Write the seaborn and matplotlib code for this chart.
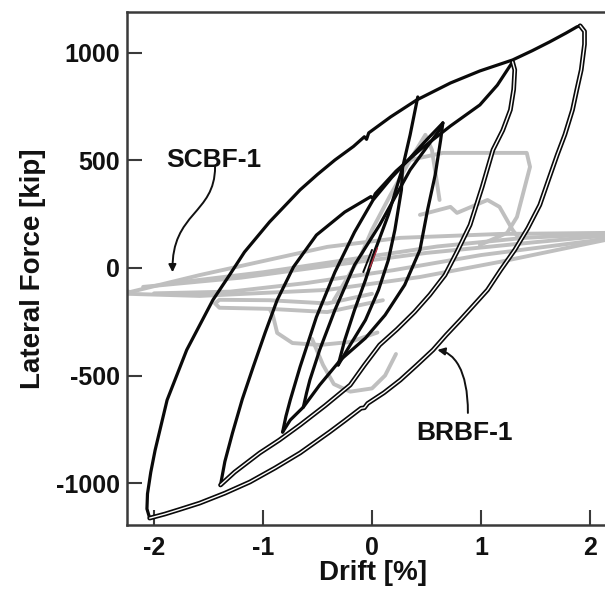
import matplotlib
matplotlib.use("Agg")
import matplotlib.pyplot as plt
from matplotlib.path import Path
from matplotlib.patches import FancyArrowPatch
import pandas as pd
import seaborn as sns

# ---- BRBF-1 hysteresis (drift [%], lateral force [kip]) ----
brbf_a_load_x = [-2.04, -2.065, -2.06, -2.03, -1.99, -1.88, -1.70, -1.46, -1.31, -1.17, -0.94, -0.66, -0.50, -0.34, -0.17,
                 -0.07, -0.05, -0.03, 0.17, 0.41, 0.72, 0.99, 1.29, 1.47, 1.63, 1.78, 1.88, 1.91]
brbf_a_load_y = [-1163, -1120, -1050, -950, -847, -614, -381, -149, -35, 74, 214, 363, 435, 502, 565,
                 610, 598, 628, 702, 781, 860, 916, 967, 1010, 1051, 1092, 1121, 1126]
brbf_a_unload_x = [1.91, 1.95, 1.95, 1.92, 1.88, 1.84, 1.77, 1.70, 1.62, 1.54, 1.43, 1.31, 1.18, 1.06, 0.93, 0.81, 0.68,
                   0.56, 0.41, 0.26, 0.11, -0.04, -0.07, -0.10, -0.25, -0.39, -0.66, -0.89, -1.12, -1.35, -1.58, -1.76,
                   -1.90, -2.04]
brbf_a_unload_y = [1126, 1100, 1040, 921, 830, 735, 620, 526, 410, 293, 185, 84, -10, -102, -175, -242, -312,
                   -381, -452, -521, -580, -630, -650, -652, -710, -763, -860, -930, -995, -1047, -1093, -1122,
                   -1144, -1163]

brbf_b_load_x = [-1.39, -1.35, -1.28, -1.19, -1.09, -0.98, -0.87, -0.72, -0.51, -0.25, -0.01, 0.01, 0.03, 0.22, 0.44,
                 0.72, 0.99, 1.15, 1.29]
brbf_b_load_y = [-1009, -900, -767, -610, -460, -300, -149, 5, 153, 260, 332, 322, 345, 450, 549,
                 660, 758, 850, 958]
brbf_b_unload_x = [1.29, 1.31, 1.30, 1.27, 1.20, 1.11, 1.01, 0.90, 0.78, 0.67, 0.53, 0.39, 0.23, 0.07, -0.07, -0.20,
                   -0.43, -0.66, -0.85, -1.03, -1.26, -1.39]
brbf_b_unload_y = [958, 921, 830, 735, 640, 549, 375, 200, 75, -33, -125, -205, -285, -358, -452, -544,
                   -640, -730, -800, -860, -949, -1009]

brbf_c_load1_x = [-0.63, -0.60, -0.57, -0.48, -0.34, -0.16, 0.07, 0.35, 0.50, 0.62, 0.65]
brbf_c_load1_y = [-647, -580, -521, -381, -195, 14, 200, 456, 560, 642, 674]
brbf_c_load2_x = [-0.82, -0.79, -0.75, -0.66, -0.51, -0.34, -0.16, 0.01, 0.18, 0.35, 0.50, 0.65]
brbf_c_load2_y = [-763, -690, -614, -460, -228, -19, 167, 316, 420, 512, 595, 674]
brbf_c_unload_x = [0.65, 0.63, 0.58, 0.51, 0.44, 0.30, 0.12, -0.06, -0.29, -0.48, -0.63, -0.75, -0.82]
brbf_c_unload_y = [674, 595, 433, 270, 84, -79, -219, -326, -428, -544, -647, -707, -763]

brbf_d_load_x = [-0.31, -0.25, -0.16, -0.06, 0.03, 0.15, 0.28, 0.35, 0.42]
brbf_d_load_y = [-451, -335, -195, -56, 84, 247, 465, 619, 795]
brbf_d_unload_x = [0.28, 0.27, 0.21, 0.15, 0.06, -0.06, -0.20, -0.31]
brbf_d_unload_y = [465, 363, 177, 37, -102, -242, -358, -451]

brbf_e_x = [-0.08, 0.00]
brbf_e_y = [-19, 84]
brbf_e2_x = [-0.02, 0.05]
brbf_e2_y = [0, 93]

# ---- SCBF-1 hysteresis ----
scbf_flat_top_x = [-2.25, -2.22, -1.58, -0.66, -0.41, 0.26, 1.17, 2.14]
scbf_flat_top_y = [-108, -112, -33, 70, 98, 140, 158, 163]
scbf_flat_bot_x = [-2.25, -1.58, -0.41, 0.44, 1.17, 2.14]
scbf_flat_bot_y = [-120, -130, -102, -42, 28, 130]
scbf_flat_mid1_x = [-2.10, -1.20, -0.40, 0.50, 1.50, 2.14]
scbf_flat_mid1_y = [-88, -45, 10, 70, 120, 150]
scbf_flat_mid2_x = [-2.00, -1.30, -0.60, 0.20, 1.00, 2.00, 2.14]
scbf_flat_mid2_y = [-118, -110, -70, -10, 60, 125, 138]
scbf_flat_mid3_x = [-1.90, -1.00, -0.20, 0.60, 1.40, 2.14]
scbf_flat_mid3_y = [-75, -20, 40, 100, 140, 158]
scbf_plateau_x = [0.10, -0.41, -0.94, -1.40, -1.44, -1.40, -0.94, -0.41, 0.00]
scbf_plateau_y = [-150, -205, -190, -185, -165, -148, -150, -165, -120]
scbf_lower_x = [-0.94, -0.91, -0.87, -0.73, -0.48, -0.20, 0.05]
scbf_lower_y = [-190, -219, -302, -349, -358, -344, -300]
scbf_bottom_x = [-0.55, -0.45, -0.35, -0.20, 0.00, 0.12, 0.22]
scbf_bottom_y = [-330, -450, -540, -575, -560, -500, -400]
scbf_rise_x = [-0.35, -0.10, 0.00, 0.17, 0.35, 0.49, 0.55, 0.62]
scbf_rise_y = [-150, 60, 177, 340, 502, 619, 549, 316]
scbf_box_x = [0.35, 0.65, 1.42, 1.45, 1.33, 1.24, 0.99]
scbf_box_y = [502, 535, 535, 470, 237, 163, 107]
scbf_mid_x = [0.44, 0.51, 0.72, 0.78, 1.06, 1.17, 1.29, 1.36]
scbf_mid_y = [247, 256, 284, 256, 316, 284, 177, 130]

x_ticks = [-2, -1, 0, 1, 2]
y_ticks = [-1000, -500, 0, 500, 1000]


def frame(paths):
    rows = []
    for name, (xs, ys) in paths.items():
        for i, (x, y) in enumerate(zip(xs, ys)):
            rows.append((name, i, x, y))
    return pd.DataFrame(rows, columns=["path", "order", "drift", "force"])


gray_df = frame({
    "flat_top": (scbf_flat_top_x, scbf_flat_top_y),
    "flat_bot": (scbf_flat_bot_x, scbf_flat_bot_y),
    "flat_mid1": (scbf_flat_mid1_x, scbf_flat_mid1_y),
    "flat_mid2": (scbf_flat_mid2_x, scbf_flat_mid2_y),
    "flat_mid3": (scbf_flat_mid3_x, scbf_flat_mid3_y),
    "plateau": (scbf_plateau_x, scbf_plateau_y),
    "lower": (scbf_lower_x, scbf_lower_y),
    "bottom": (scbf_bottom_x, scbf_bottom_y),
    "rise": (scbf_rise_x, scbf_rise_y),
    "box": (scbf_box_x, scbf_box_y),
    "mid": (scbf_mid_x, scbf_mid_y),
})

single_df = frame({
    "a_load": (brbf_a_load_x, brbf_a_load_y),
    "b_load": (brbf_b_load_x, brbf_b_load_y),
    "c_load1": (brbf_c_load1_x, brbf_c_load1_y),
    "c_load2": (brbf_c_load2_x, brbf_c_load2_y),
    "c_unload": (brbf_c_unload_x, brbf_c_unload_y),
    "d_load": (brbf_d_load_x, brbf_d_load_y),
    "d_unload": (brbf_d_unload_x, brbf_d_unload_y),
})

double_df = frame({
    "a_unload": (brbf_a_unload_x, brbf_a_unload_y),
    "b_unload": (brbf_b_unload_x, brbf_b_unload_y),
})

small_df = frame({"e": (brbf_e_x, brbf_e_y)})
red_df = frame({"e2": (brbf_e2_x, brbf_e2_y)})

sns.set_theme(style="white")
plt.rcParams["font.family"] = ["Liberation Sans", "DejaVu Sans"]
plt.rcParams["font.weight"] = "bold"
plt.rcParams["axes.unicode_minus"] = False

fig = plt.figure(figsize=(6.05, 5.93), dpi=100)
ax = fig.add_axes([127 / 605, 1 - 525 / 593, 478 / 605, 513 / 593])

common = dict(x="drift", y="force", units="path", estimator=None, sort=False,
              legend=False, ax=ax, solid_joinstyle="round", solid_capstyle="round")

sns.lineplot(data=gray_df, color="#bfbfbf", lw=2.8, **common)
sns.lineplot(data=single_df, color="#0a0a0a", lw=2.3, **common)
sns.lineplot(data=double_df, color="#0a0a0a", lw=3.4, **common)
sns.lineplot(data=double_df, color="white", lw=1.0, **common)
sns.lineplot(data=small_df, color="#0a0a0a", lw=1.4, **common)
sns.lineplot(data=red_df, color="#b03040", lw=1.0, **common)

ax.set_xlim(-2.248, 2.138)
ax.set_ylim(-1195, 1190)
ax.set_xticks(x_ticks)
ax.set_yticks(y_ticks)
ax.set_xticklabels([str(t) for t in x_ticks])
ax.set_yticklabels([str(t) for t in y_ticks])

for side in ["left", "top", "bottom"]:
    ax.spines[side].set_visible(True)
    ax.spines[side].set_color("#3a3a3a")
    ax.spines[side].set_linewidth(1.8)
ax.spines["right"].set_visible(False)

ax.tick_params(axis="both", which="major", direction="in", length=11, width=1.5,
               color="#3a3a3a", labelsize=18, labelcolor="#111111",
               left=True, bottom=True, top=False, right=False)
ax.tick_params(axis="y", pad=5)
ax.tick_params(axis="x", pad=8)
for lab in ax.get_xticklabels() + ax.get_yticklabels():
    lab.set_fontweight("bold")

ax.set_xlabel("Drift [%]", fontsize=20, fontweight="bold", color="#111111")
ax.set_ylabel("Lateral Force [kip]", fontsize=20, fontweight="bold", color="#111111")
ax.xaxis.set_label_coords(0.515, -0.068)
ax.yaxis.set_label_coords(-0.17, 0.5)

ax.text(-1.45, 502, "SCBF-1", fontsize=19, fontweight="bold", ha="center", va="center", color="#111111")
ax.text(0.853, -767, "BRBF-1", fontsize=19, fontweight="bold", ha="center", va="center", color="#111111")

scbf_arrow = Path([(-1.44, 470), (-1.44, 250), (-1.84, 260), (-1.83, -20)],
                  [Path.MOVETO, Path.CURVE4, Path.CURVE4, Path.CURVE4])
ax.add_patch(FancyArrowPatch(path=scbf_arrow, arrowstyle="-|>", mutation_scale=11,
                             color="#111111", lw=1.4))
brbf_arrow = Path([(0.88, -674), (0.88, -470), (0.75, -395), (0.60, -381)],
                  [Path.MOVETO, Path.CURVE4, Path.CURVE4, Path.CURVE4])
ax.add_patch(FancyArrowPatch(path=brbf_arrow, arrowstyle="-|>", mutation_scale=11,
                             color="#111111", lw=1.4))

fig.savefig("out.png", dpi=100, facecolor="white")
